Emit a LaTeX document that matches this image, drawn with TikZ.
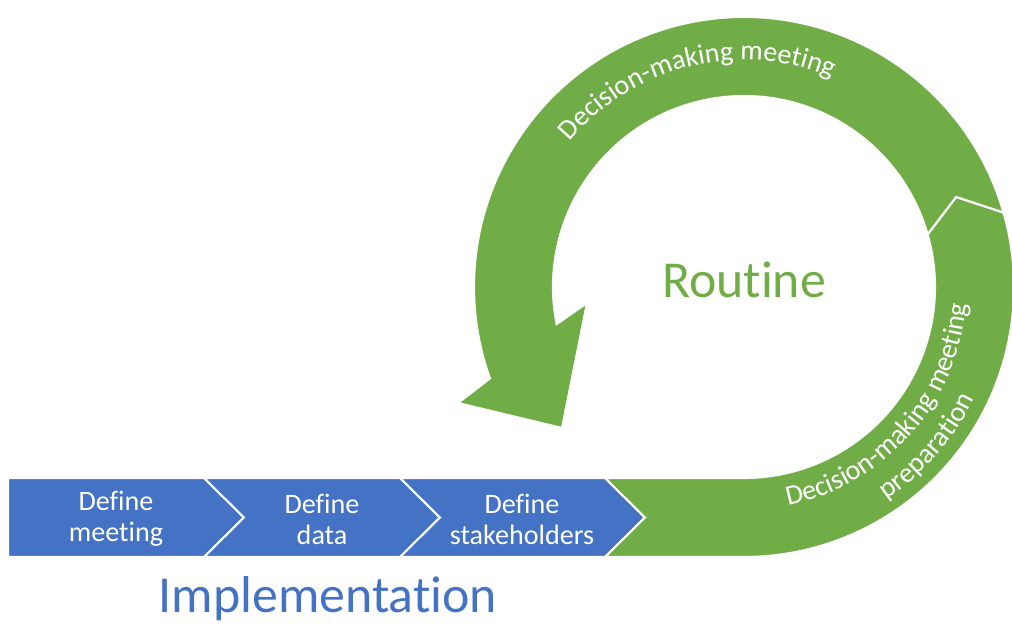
\documentclass[tikz,border=0pt]{standalone}
\usepackage{fontspec}
\setmainfont{Carlito}[Ligatures=NoCommon]
\usetikzlibrary{calc,decorations.text}
\definecolor{offblue}{HTML}{4472C4}
\definecolor{offgreen}{HTML}{70AD47}
\newcommand\arcfont{\fontsize{16}{18}\selectfont\color{white}}

\begin{document}
\begin{tikzpicture}[x=0.02cm, y=0.02cm,
    seg/.style={fill=offblue, draw=white, line width=1.2pt},
    ring/.style={fill=offgreen, draw=white, line width=1.2pt},
    steptext/.style={text=white, align=center, font=\fontsize{16}{17.6}\selectfont},
    title/.style={font=\fontsize{29.5}{34}\selectfont, anchor=base}]
    \useasboundingbox (0,0) rectangle (1012,623);
    \clip (0,0) rectangle (1012,623);

    \coordinate (C) at (744,336);
    \coordinate (wingL) at (458,220);
    \coordinate (tip) at (562,195);
    \coordinate (wingR) at (587,320);

    \draw[seg] (8,66) -- (8,145) -- (204,145) -- (244,105.5) -- (204,66) -- cycle;
    \foreach \a/\b in {204/400,400/605} {
        \draw[seg] (\a,145) -- (\b,145) -- ({\b+40},105.5) -- (\b,66)
            -- (\a,66) -- ({\a+40},105.5) -- cycle;
    }

    \draw[ring] (605,145) -- (744,145) arc[start angle=270, end angle=376, radius=191]
        -- ($(C)+(23:230.5)$) -- ($(C)+(16:270)$)
        arc[start angle=16, end angle=-90, radius=270] -- (605,66) -- (645,105.5) -- cycle;
    \draw[ring] ($(C)+(16:270)$) arc[start angle=16, end angle=199.8, radius=270]
        -- (wingL) -- (tip) -- (wingR) -- ($(C)+(191.2:191)$)
        arc[start angle=191.2, end angle=16, radius=191] -- ($(C)+(23:230.5)$) -- cycle;

    \node[steptext] (meeting) at (116,104) {Define\\meeting};
    \node[steptext] (data) at (322,104) {Define\\data};
    \node[steptext] (stake) at (522,104) {Define\\stakeholders};

    \node[title, text=offblue] (impl) at (328,11) {Implementation};
    \node[title, text=offgreen] (routine) at (744,325) {Routine};

    \path[decorate, decoration={text along path, text align=center,
        text={|\arcfont|Decision-making meeting}}]
        ($(C)+(148.7:227)$) arc[start angle=148.7, end angle=58.7, radius=227];
    \path[decorate, decoration={text along path, text align=center,
        text={|\arcfont|Decision-making meeting}}]
        ($(C)+(-86.5:223)$) arc[start angle=-86.5, end angle=3.5, radius=223];
    \path[decorate, decoration={text along path, text align=center,
        text={|\arcfont|preparation}}]
        ($(C)+(-86:256)$) arc[start angle=-86, end angle=4, radius=256];
\end{tikzpicture}
\end{document}
